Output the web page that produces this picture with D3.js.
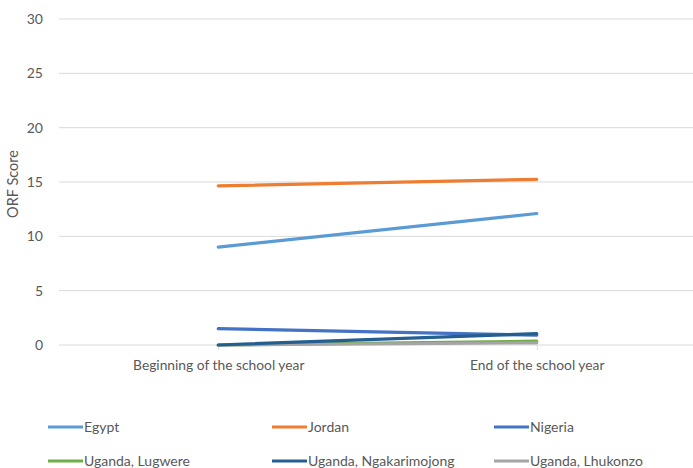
<!DOCTYPE html>
<html>
<head>
<meta charset="utf-8">
<script src="https://cdn.jsdelivr.net/npm/d3@7"></script>
<style>
  body { margin: 0; background: #fff; }
  svg { display: block; }
  text { font-family: Lato, "Open Sans", sans-serif; fill: #595959; }
</style>
</head>
<body>
<svg id="chart" width="693" height="468"></svg>
<script>
// Oral reading fluency (ORF) scores at two points of the school year
const periods = ["Beginning of the school year", "End of the school year"];
const seriesNames = ["Egypt", "Jordan", "Nigeria", "Uganda, Lugwere", "Uganda, Ngakarimojong", "Uganda, Lhukonzo"];
const egypt = [9.0, 12.1];
const jordan = [14.65, 15.25];
const nigeria = [1.5, 0.9];
const lugwere = [0.0, 0.35];
const ngakarimojong = [0.0, 1.05];
const lhukonzo = [0.0, 0.2];
const yTicks = [0, 5, 10, 15, 20, 25, 30];
const colors = ["#5B9BD5", "#ED7D31", "#4472C4", "#70AD47", "#255E91", "#A5A5A5"];

const seriesValues = [egypt, jordan, nigeria, lugwere, ngakarimojong, lhukonzo];
// draw order: later series sit on top
const drawOrder = [0, 1, 2, 3, 5, 4];

const svg = d3.select("#chart");
const plotLeft = 59, plotRight = 696, plotTop = 19, plotBottom = 345;

const x = d3.scalePoint().domain(periods).range([plotLeft, plotRight]).padding(0.5);
const y = d3.scaleLinear().domain([0, 30]).range([plotBottom, plotTop]);

// horizontal gridlines
svg.append("g")
  .selectAll("line")
  .data(yTicks)
  .join("line")
  .attr("x1", plotLeft).attr("x2", plotRight)
  .attr("y1", d => y(d)).attr("y2", d => y(d))
  .attr("stroke", "#d9d9d9").attr("stroke-width", 1);

// y axis labels
const yAxis = d3.axisLeft(y).tickValues(yTicks).tickSize(0).tickPadding(0);
const gy = svg.append("g").attr("transform", `translate(${plotLeft - 16},0)`).call(yAxis);
gy.select(".domain").remove();
gy.selectAll("text").style("font-size", "14px").attr("fill", "#595959")
  .style("font-family", "Lato, sans-serif");

// x axis
const xAxis = d3.axisBottom(x).tickSize(5).tickPadding(10);
const gx = svg.append("g").attr("transform", `translate(0,${plotBottom})`).call(xAxis);
gx.select(".domain").remove();
gx.selectAll(".tick line").attr("stroke", "#d9d9d9");
gx.selectAll("text").style("font-size", "13.8px").attr("fill", "#595959")
  .style("font-family", "Lato, sans-serif");

// y axis title
svg.append("text")
  .attr("transform", `translate(18,${(plotTop + plotBottom) / 2 + 2}) rotate(-90)`)
  .attr("text-anchor", "middle")
  .style("font-size", "14.5px")
  .text("ORF Score");

// series lines
const line = d3.line().x((d, i) => x(periods[i])).y(d => y(d));
svg.append("g")
  .selectAll("path")
  .data(drawOrder)
  .join("path")
  .attr("d", i => line(seriesValues[i]))
  .attr("fill", "none")
  .attr("stroke", i => colors[i])
  .attr("stroke-width", 3.2)
  .attr("stroke-linecap", "round");

// legend
const legendCols = [48, 272, 494];
const legendRows = [427, 461];
const lg = svg.append("g")
  .selectAll("g")
  .data(seriesNames)
  .join("g")
  .attr("transform", (d, i) => `translate(${legendCols[i % 3]},${legendRows[Math.floor(i / 3)]})`);
lg.append("line")
  .attr("x1", 0).attr("x2", 35).attr("y1", 0).attr("y2", 0)
  .attr("stroke", (d, i) => colors[i]).attr("stroke-width", 3.2);
lg.append("text")
  .attr("x", 36).attr("y", 0).attr("dy", "0.35em")
  .style("font-size", "14px")
  .text(d => d);
</script>
</body>
</html>
